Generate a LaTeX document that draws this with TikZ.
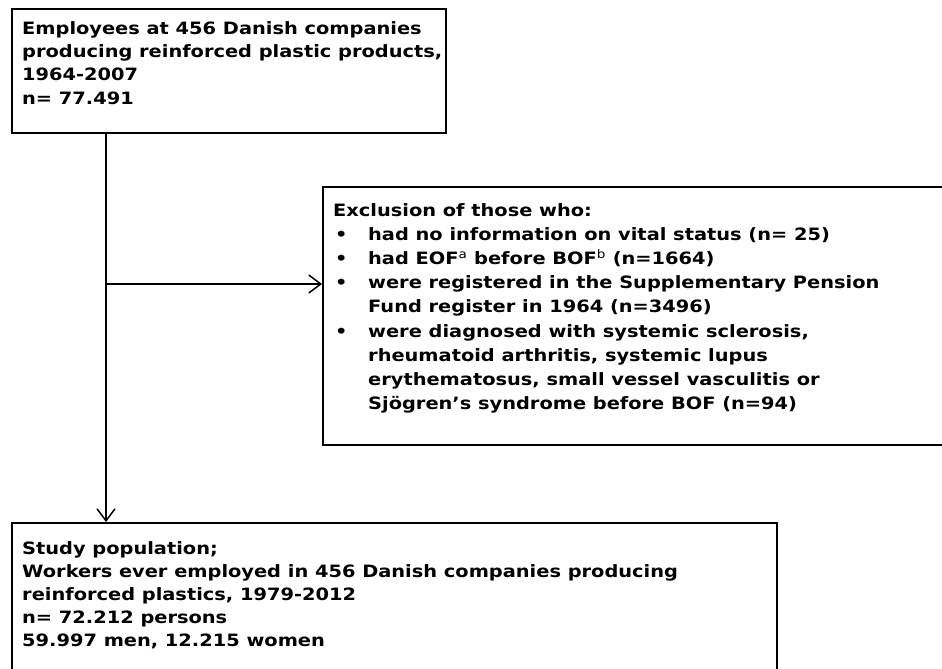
\documentclass[tikz,border=0pt]{standalone}
\usepackage{fontspec}
\setmainfont{DejaVu Sans}[FakeStretch=1.14]
\usetikzlibrary{arrows.meta,calc}
\begin{document}
\begin{tikzpicture}[x=1pt,y=-1pt,
  boxst/.style={draw=black,line width=2pt,rectangle,inner sep=0pt,anchor=north west},
  txt/.style={anchor=north west,inner sep=0pt,align=left,font=\fontsize{17}{23.8}\selectfont\bfseries},
  conn/.style={draw=black,line width=1.5pt,-{Straight Barb[length=12pt,width=18pt,line width=1.5pt]}}]
\useasboundingbox (0,0) rectangle (942,669);
\clip (0,0) rectangle (942,669);
\fill[white] (0,0) rectangle (942,669);
% boxes
\node[boxst,minimum width=434pt,minimum height=124pt] (b1) at (11,8) {};
\node[boxst,minimum width=660pt,minimum height=258pt] (b2) at (322,186) {};
\node[boxst,minimum width=765pt,minimum height=200pt] (b3) at (11,522) {};
% texts
\node[txt,font=\fontsize{17}{23.4}\selectfont\bfseries] (t1) at (22,21) {Employees at 456 Danish companies\\producing reinforced plastic products,\\1964-2007\\n= 77.491};
\node[txt,font=\fontsize{17}{24.2}\selectfont\bfseries] (t2) at (333,203) {Exclusion of those who:\\
\makebox[35pt][l]{\hspace{2pt}\textbullet}had no information on vital status (n= 25)\\
\makebox[35pt][l]{\hspace{2pt}\textbullet}had EOF\textsuperscript{\mdseries a} before BOF\textsuperscript{\mdseries b} (n=1664)\\
\makebox[35pt][l]{\hspace{2pt}\textbullet}were registered in the Supplementary Pension\\
\hspace*{35pt}Fund register in 1964 (n=3496)\\
\makebox[35pt][l]{\hspace{2pt}\textbullet}were diagnosed with systemic sclerosis,\\
\hspace*{35pt}rheumatoid arthritis, systemic lupus\\
\hspace*{35pt}erythematosus, small vessel vasculitis or\\
\hspace*{35pt}Sjögren’s syndrome before BOF (n=94)};
\node[txt,font=\fontsize{17}{23.2}\selectfont\bfseries] (t3) at (22,541) {Study population;\\Workers ever employed in 456 Danish companies producing\\reinforced plastics, 1979-2012\\n= 72.212 persons\\59.997 men, 12.215 women};
% connectors
\coordinate (vtop) at ($(b1.south west)+(95,0)$);
\coordinate (br) at ($(vtop)+(0,150)$);
\draw[conn] (vtop) -- (vtop |- b3.north);
\draw[conn] (br) -- (br -| b2.west);
\end{tikzpicture}
\end{document}
